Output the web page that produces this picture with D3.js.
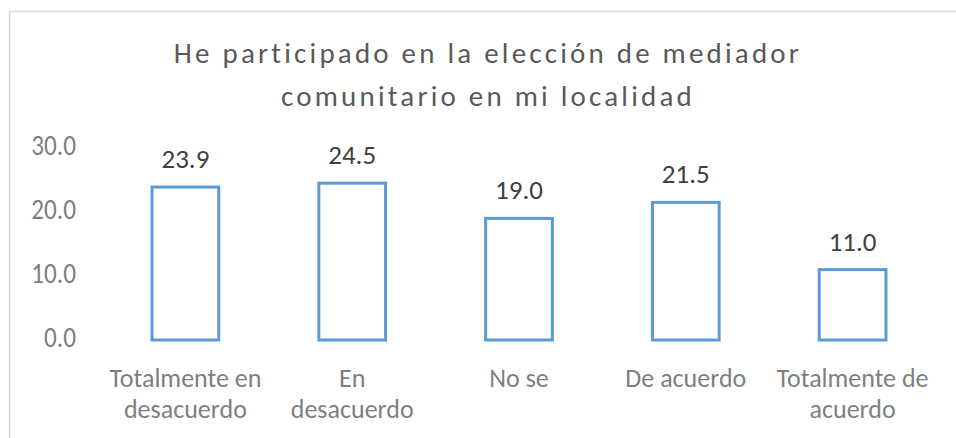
<!DOCTYPE html>
<html>
<head>
<meta charset="utf-8">
<script src="https://cdnjs.cloudflare.com/ajax/libs/d3/7.8.5/d3.min.js"></script>
<style>
  body { margin: 0; background: #fff; }
  text { font-family: Carlito, "Liberation Sans Narrow", "Open Sans", sans-serif; }
</style>
</head>
<body>
<div id="chart"></div>
<script>
// Chart data
var categories = [
  ["Totalmente en", "desacuerdo"],
  ["En", "desacuerdo"],
  ["No se"],
  ["De acuerdo"],
  ["Totalmente de", "acuerdo"]
];
var values = [23.9, 24.5, 19.0, 21.5, 11.0];
var yTicks = [0, 10, 20, 30];
var titleLines = ["He participado en la elección de mediador", "comunitario en mi localidad"];

var svgWidth = 956;
var svgHeight = 438;

var margin = { top: 148, right: 20, bottom: 98, left: 102 };
var width = 936 - margin.left;
var height = 340 - margin.top;

var svg = d3.select("#chart")
  .append("svg")
  .attr("width", svgWidth)
  .attr("height", svgHeight);

// chart border
svg.append("rect")
  .attr("x", 9.5)
  .attr("y", 11.5)
  .attr("width", 960)
  .attr("height", 440)
  .attr("fill", "none")
  .attr("stroke", "#d9d9d9")
  .attr("stroke-width", 1.5);

// title
svg.append("text")
  .attr("x", 488)
  .attr("y", 63)
  .attr("text-anchor", "middle")
  .attr("fill", "#595959")
  .attr("font-size", "29px")
  .attr("letter-spacing", "3.2px")
  .selectAll("tspan")
  .data(titleLines)
  .enter()
  .append("tspan")
  .attr("x", 488)
  .attr("dy", (d, i) => i === 0 ? 0 : 43)
  .text(d => d);

var chartGroup = svg.append("g")
  .attr("transform", `translate(${margin.left}, ${margin.top})`);

var xScale = d3.scaleBand()
  .domain(d3.range(values.length))
  .range([0, width])
  .paddingInner(0.6)
  .paddingOuter(0.3);

var yScale = d3.scaleLinear()
  .domain([0, 30])
  .range([height, 0]);

// y axis labels
var leftAxis = d3.axisLeft(yScale)
  .tickValues(yTicks)
  .tickFormat(d3.format(".1f"))
  .tickSize(0)
  .tickPadding(29);

var yAxis = chartGroup.append("g").call(leftAxis);
yAxis.select(".domain").remove();
yAxis.selectAll("text")
  .attr("font-size", "28px")
  .attr("fill", "#7f7f7f")
  .attr("font-family", null)
  .attr("dy", "0.22em")
  .attr("transform", "scale(0.9,1)");

// bars
chartGroup.selectAll("rect.bar")
  .data(values)
  .enter()
  .append("rect")
  .attr("class", "bar")
  .attr("x", (d, i) => xScale(i))
  .attr("y", d => yScale(d))
  .attr("width", xScale.bandwidth())
  .attr("height", d => height - yScale(d))
  .attr("fill", "#fff")
  .attr("stroke", "#5b9bd5")
  .attr("stroke-width", 3);

// value labels
chartGroup.selectAll("text.val")
  .data(values)
  .enter()
  .append("text")
  .attr("class", "val")
  .attr("x", (d, i) => xScale(i) + xScale.bandwidth() / 2)
  .attr("y", d => yScale(d) - 19)
  .attr("text-anchor", "middle")
  .attr("font-size", "27px")
  .attr("fill", "#404040")
  .text(d => d3.format(".1f")(d));

// category labels
var catLabels = chartGroup.selectAll("text.cat")
  .data(categories)
  .enter()
  .append("text")
  .attr("class", "cat")
  .attr("text-anchor", "middle")
  .attr("font-size", "26px")
  .attr("fill", "#7f7f7f")
  .attr("transform", (d, i) => `translate(${xScale(i) + xScale.bandwidth() / 2}, ${height + 47})`);

catLabels.selectAll("tspan")
  .data(d => d)
  .enter()
  .append("tspan")
  .attr("x", 0)
  .attr("dy", (d, i) => i === 0 ? 0 : 31)
  .text(d => d);
</script>
</body>
</html>
